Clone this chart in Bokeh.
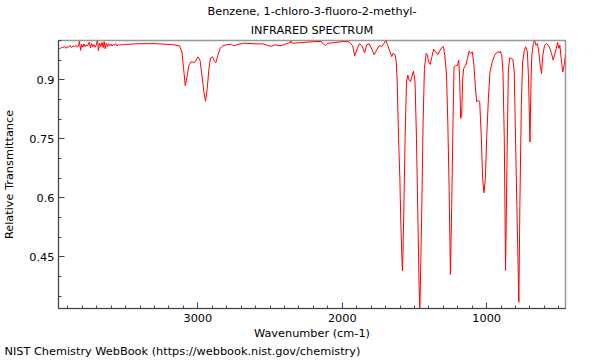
from bokeh.plotting import figure
from bokeh.models import Range1d, FixedTicker, Title, ColumnDataSource
from bokeh.embed import file_html
from bokeh.resources import INLINE

# ---- data ----
wavenumber = [
    3965, 3955, 3945, 3935, 3925, 3915, 3905, 3895, 3885, 3875, 3865, 3855, 3845, 3835,
    3827, 3820, 3812, 3804, 3796, 3788, 3780, 3772, 3764, 3751, 3744, 3736, 3728, 3720,
    3712, 3704, 3695, 3688, 3680, 3672, 3664, 3656, 3649, 3642, 3634, 3626, 3618, 3610,
    3602, 3594, 3586, 3578, 3570, 3560, 3550, 3540, 3530, 3520, 3500, 3450, 3400, 3350,
    3300, 3250, 3200, 3184,
    3127, 3110, 3099, 3087, 3075, 3062, 3046, 3027, 3016, 2999, 2985, 2972, 2958, 2947,
    2935, 2923, 2912, 2898, 2885, 2875, 2861, 2847, 2827, 2792, 2769, 2751, 2723, 2677,
    2596, 2550, 2493, 2470, 2424, 2389, 2358, 2355, 2350, 2343, 2274, 2182, 2147, 2117,
    2101, 2044, 1997, 1952, 1928, 1914, 1900, 1882, 1864, 1845, 1831, 1813, 1795, 1779,
    1762, 1744, 1726, 1710, 1698, 1686, 1670, 1657, 1648, 1634, 1626, 1620, 1610, 1601,
    1594, 1587, 1583, 1579, 1574, 1565, 1555, 1546, 1537, 1527, 1518, 1507, 1496, 1486,
    1477, 1468, 1463, 1459, 1449, 1440, 1431, 1419, 1410, 1403, 1391, 1379, 1367, 1352,
    1339, 1323, 1306, 1299, 1290, 1278, 1269, 1260, 1251, 1242, 1233, 1226, 1216, 1202,
    1193, 1187, 1180, 1173, 1166, 1159, 1145, 1133, 1122, 1111, 1099, 1088, 1079, 1069,
    1057, 1048, 1037, 1028, 1019, 1009, 1000, 988, 977, 961, 945, 926, 919, 908,
    905, 896, 887, 878, 869, 860, 850, 841, 830, 818, 809, 800, 791, 777,
    770, 760, 751, 739, 730, 718, 710, 700, 693, 687, 677, 668, 659, 649,
    639, 629, 620, 611, 599, 585, 574, 563, 551, 539, 530, 518, 509, 500,
    493, 484, 473, 463, 454,
]
transmittance = [
    0.981, 0.979, 0.983, 0.982, 0.985, 0.980, 0.984, 0.983, 0.987, 0.982, 0.986, 0.984, 0.988, 0.983,
    0.986, 0.998, 0.975, 0.990, 0.983, 0.991, 0.984, 0.989, 0.986, 0.996, 0.981, 0.992, 0.984, 0.990,
    0.983, 0.988, 1.000, 0.974, 0.993, 0.985, 0.995, 0.982, 0.997, 0.979, 0.993, 0.984, 0.992, 0.987,
    0.991, 0.986, 0.990, 0.988, 0.992, 0.986, 0.990, 0.988, 0.990, 0.989, 0.990, 0.991, 0.992, 0.992,
    0.992, 0.991, 0.990, 0.990,
    0.9865, 0.971, 0.929, 0.885, 0.908, 0.937, 0.946, 0.944, 0.947, 0.9585, 0.950, 0.912, 0.8695, 0.8456,
    0.878, 0.929, 0.956, 0.9585, 0.947, 0.944, 0.9626, 0.9796, 0.9865, 0.990, 0.9905, 0.9865, 0.990, 0.993,
    0.9915, 0.9915, 0.985, 0.989, 0.9865, 0.9915, 0.9955, 0.999, 0.994, 0.993, 0.995, 0.9974, 0.9974, 0.987,
    0.993, 0.995, 0.9974, 0.9966, 0.9865, 0.961, 0.976, 0.9915, 0.9865, 0.969, 0.989, 0.9915, 0.978, 0.9636,
    0.976, 0.9865, 0.985, 0.993, 1.000, 0.989, 0.972, 0.959, 0.9677, 0.9636, 0.945, 0.900, 0.751, 0.649,
    0.530, 0.450, 0.415, 0.470, 0.564, 0.751, 0.895, 0.912, 0.899, 0.895, 0.908, 0.922, 0.895, 0.751,
    0.564, 0.378, 0.310, 0.378, 0.581, 0.793, 0.929, 0.967, 0.9626, 0.946, 0.939, 0.9585, 0.978, 0.971,
    0.964, 0.975, 0.984, 0.984, 0.9626, 0.912, 0.793, 0.624, 0.405, 0.581, 0.793, 0.933, 0.936, 0.937,
    0.950, 0.903, 0.802, 0.810, 0.903, 0.929, 0.937, 0.954, 0.973, 0.967, 0.971, 0.937, 0.886, 0.844,
    0.848, 0.844, 0.751, 0.649, 0.613, 0.649, 0.751, 0.852, 0.920, 0.946, 0.9626, 0.971, 0.971, 0.969,
    0.973, 0.964, 0.920, 0.751, 0.416, 0.666, 0.920, 0.956, 0.954, 0.952, 0.920, 0.751, 0.581, 0.335,
    0.581, 0.835, 0.946, 0.975, 0.984, 0.971, 0.903, 0.742, 0.895, 0.9626, 0.992, 1.000, 0.988, 0.992,
    0.971, 0.937, 0.916, 0.9626, 0.988, 0.992, 0.988, 0.981, 0.967, 0.950, 0.9626, 0.980, 0.995, 0.980,
    0.988, 0.954, 0.920, 0.937, 0.9626,
]
x_major_ticks = [1000, 2000, 3000]
x_minor_ticks = list(range(500, 4000, 100))
y_major_ticks = [0.45, 0.6, 0.75, 0.9]
y_minor_ticks = [0.35, 0.4, 0.45, 0.5, 0.55, 0.6, 0.65, 0.7, 0.75, 0.8, 0.85, 0.9, 0.95, 1.0]
y_tick_labels = {0.45: "0.45", 0.6: "0.6", 0.75: "0.75", 0.9: "0.9"}
title_lines = ["Benzene, 1-chloro-3-fluoro-2-methyl-", "INFRARED SPECTRUM"]
footer_text = "NIST Chemistry WebBook (https://webbook.nist.gov/chemistry)"

FONT = "DejaVu Sans"
FS = "11.3px"

source = ColumnDataSource(data=dict(x=wavenumber, y=transmittance))

p = figure(width=600, height=360, output_backend="svg", toolbar_location=None,
           x_range=Range1d(3965, 454), y_range=Range1d(0.319, 1.0),
           min_border_left=57, min_border_right=35, min_border_top=40, min_border_bottom=52)
p.background_fill_color = "white"
p.border_fill_color = "white"
p.outline_line_color = "#999999"
p.outline_line_width = 1.5
p.grid.visible = False

p.line("x", "y", source=source, line_color="#ff0000", line_width=1)

for ax in (p.xaxis[0], p.yaxis[0]):
    ax.axis_line_color = "#444444"
    ax.major_tick_line_color = "#444444"
    ax.minor_tick_line_color = "#444444"
    ax.major_tick_in = 6
    ax.major_tick_out = 0
    ax.minor_tick_in = 3
    ax.minor_tick_out = 0
    ax.major_label_text_font = FONT
    ax.major_label_text_font_size = FS
    ax.major_label_text_color = "black"
    ax.axis_label_text_font = FONT
    ax.axis_label_text_font_size = FS
    ax.axis_label_text_font_style = "normal"
    ax.axis_label_text_color = "black"

p.xaxis[0].ticker = FixedTicker(ticks=x_major_ticks, minor_ticks=x_minor_ticks)
p.yaxis[0].ticker = FixedTicker(ticks=y_major_ticks, minor_ticks=y_minor_ticks)
p.yaxis[0].major_label_overrides = y_tick_labels
p.xaxis[0].axis_label = "Wavenumber (cm-1)"
p.yaxis[0].axis_label = "Relative Transmittance"
p.xaxis[0].major_label_standoff = 5
p.xaxis[0].axis_label_standoff = 2
p.yaxis[0].major_label_standoff = 4
p.yaxis[0].axis_label_standoff = 10

# two-line title: outer line is the plot title, inner line sits next to the frame
p.title.text = title_lines[0]
p.title.align = "center"
p.title.text_font = FONT
p.title.text_font_size = FS
p.title.text_font_style = "normal"
p.title.text_color = "black"
p.title.standoff = 1
p.add_layout(Title(text=title_lines[1], align="center", text_font=FONT, text_font_size=FS,
                   text_font_style="normal", text_color="black", standoff=7), "above")

# footer below the x axis, pushed to the left edge of the canvas
p.add_layout(Title(text=footer_text, align="left", offset=-54, text_font=FONT, text_font_size=FS,
                   text_font_style="normal", text_color="black", standoff=1), "below")

open("out.html", "w").write(file_html(p, INLINE))
